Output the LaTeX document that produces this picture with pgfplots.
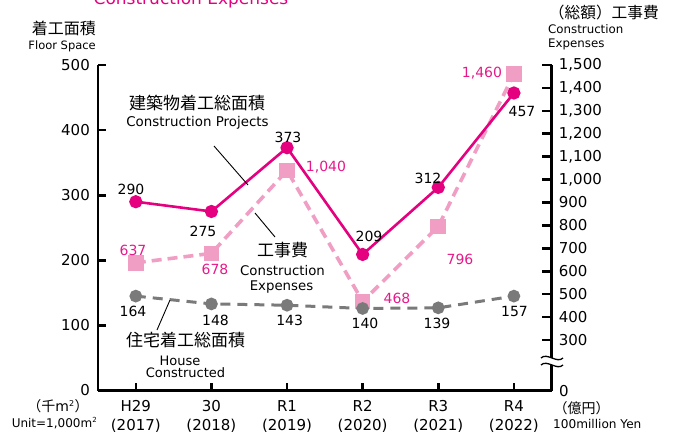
\documentclass[border=0pt]{standalone}
\usepackage{fontspec}
\setmainfont{DejaVu Sans}
\newfontfamily\jp{Noto Sans CJK JP}
\usepackage{pgfplots}
\pgfplotsset{compat=1.18}
\definecolor{mag}{HTML}{E4007F}
\definecolor{pinksq}{HTML}{F09EC3}
\definecolor{pinktxt}{HTML}{E6198A}
\definecolor{grayln}{HTML}{7A7A7A}
\newcommand\fs[2]{\fontsize{#1}{#2}\selectfont}

\begin{document}
\begin{tikzpicture}
% right axis: construction expenses (100 million yen), broken below 300
\begin{axis}[
  at={(98pt,-390.5pt)}, anchor=south west,
  scale only axis, width=453.7pt, height=325.5pt,
  xmin=-0.5, xmax=5.5, ymin=79.7, ymax=1500,
  axis x line=none, axis y line=right,
  axis line style={-, line width=2.6pt},
  ytick={300,400,...,1500},
  tick align=inside, major tick length=10pt,
  tick style={line width=2.6pt, black},
  yticklabel style={font=\fs{15}{18}, anchor=west, inner sep=0pt, xshift=7pt},
  /pgf/number format/1000 sep={,},
  /pgf/number format/assume math mode=true,
  clip=false,
]
\addplot[pinksq, line width=3.6pt, dash pattern=on 10pt off 6pt,
  mark=square*, mark size=6pt, mark options={solid, draw=none, fill=pinksq}]
  coordinates {(0,637) (1,678) (2,1040) (3,468) (4,796) (5,1460)};
\end{axis}

% left axis: floor space (1,000 m2)
\begin{axis}[
  at={(98pt,-390.5pt)}, anchor=south west,
  scale only axis, width=453.7pt, height=325.5pt,
  xmin=-0.5, xmax=5.5, ymin=0, ymax=500,
  axis x line=bottom, axis y line=left,
  axis line style={-, line width=2.6pt},
  xtick={0,...,5},
  xticklabels={{H29\\(2017)},{30\\(2018)},{R1\\(2019)},{R2\\(2020)},{R3\\(2021)},{R4\\(2022)}},
  xticklabel style={font=\fs{15}{18.5}, align=center, anchor=north, inner sep=0pt, yshift=-10pt},
  ytick={0,100,...,500},
  yticklabel style={font=\fs{15}{18}, anchor=east, inner sep=0pt, xshift=-8pt},
  tick align=inside, major tick length=8pt,
  tick style={line width=2.6pt, black},
  /pgf/number format/assume math mode=true,
  clip=false,
]
\addplot[mag, line width=2.6pt, mark=*, mark size=5.3pt,
  mark options={draw=none, fill=mag}]
  coordinates {(0,290) (1,275) (2,373) (3,209) (4,312) (5,457)};
% house line as drawn (not to scale in the source)
\addplot[grayln, line width=3pt, dash pattern=on 10pt off 7pt,
  mark=*, mark size=4.8pt, mark options={solid, draw=none, fill=grayln}]
  coordinates {(0,145) (1,133) (2,131) (3,126) (4,127) (5,145)};
\end{axis}

\begin{scope}[x=1pt, y=-1pt, every node/.style={inner sep=0pt}]
% axis break
\fill[white] (541,358) .. controls (547,352) and (557,364) .. (563,358)
  -- (563,365) .. controls (557,371) and (547,359) .. (541,365) -- cycle;
\draw[line width=1.3pt] (541,358) .. controls (547,352) and (557,364) .. (563,358);
\draw[line width=1.3pt] (541,365) .. controls (547,359) and (557,371) .. (563,365);

% headings
\node[anchor=base, text=mag, font=\fs{17}{20}] at (191,5) {Construction Expenses};
\node[anchor=east, font=\jp\fs{16}{19}] at (96,28) {着工面積};
\node[anchor=base east, font=\fs{11.5}{14}] at (96,49) {Floor Space};
\node[anchor=east, font=\jp\fs{15.7}{19}] at (659,12.5) {（総額）工事費};
\node[anchor=base west, font=\fs{11.8}{14}] at (548,34) {Construction};
\node[anchor=base west, font=\fs{11.8}{14}] at (548,47.5) {Expenses};

% series annotations
\node[font=\jp\fs{17}{20}] at (197,103) {建築物着工総面積};
\node[anchor=base, font=\fs{13.4}{16}] at (197.5,126) {Construction Projects};
\draw[line width=0.9pt] (214,146) -- (248,185);
\node[font=\jp\fs{17}{20}] at (282.5,250) {工事費};
\node[anchor=base, font=\fs{13.3}{16}] at (282.5,275) {Construction};
\node[anchor=base, font=\fs{13.3}{16}] at (281.5,290) {Expenses};
\draw[line width=0.9pt] (255,213) -- (275,237);
\node[font=\jp\fs{17}{20}] at (185.5,340) {住宅着工総面積};
\node[anchor=base, font=\fs{13}{16}] at (180,365) {House};
\node[anchor=base, font=\fs{13}{16}] at (185.5,377.5) {Constructed};
\draw[line width=0.9pt] (170,300) -- (157,330);

% units
\node[font=\fs{14}{17}] at (58,406.5) {{\jp （千}m\textsuperscript{\fs{8}{9}2}{\jp ）}};
\node[font=\fs{12}{14}] at (54.5,423) {Unit=1,000m\textsuperscript{\fs{7}{8}2}};
\node[anchor=west, font=\fs{15}{18}] at (559,391) {0};
\node[font=\jp\fs{14}{17}] at (581.7,407.7) {（億円）};
\node[anchor=west, font=\fs{12.1}{14}] at (553,424) {100million Yen};

% value labels
\begin{scope}[every node/.append style={font=\fs{14}{17}}]
\node at (131,189.5) {290};
\node at (203,231) {275};
\node at (288,137) {373};
\node at (369,236) {209};
\node at (428,178) {312};
\node at (522,111) {457};
\node[text=pinktxt] at (133,250) {637};
\node[text=pinktxt] at (215,269) {678};
\node[text=pinktxt] at (326,167) {1,040};
\node[text=pinktxt] at (397,298) {468};
\node[text=pinktxt] at (460,259) {796};
\node[text=pinktxt] at (482,73) {1,460};
\node at (133,311.7) {164};
\node at (215.5,320) {148};
\node at (289.7,320) {143};
\node at (365,323) {140};
\node at (437,323) {139};
\node at (514.5,311.7) {157};
\end{scope}

\pgfresetboundingbox
\useasboundingbox (0,0) rectangle (674,436);
\end{scope}
\end{tikzpicture}
\end{document}
